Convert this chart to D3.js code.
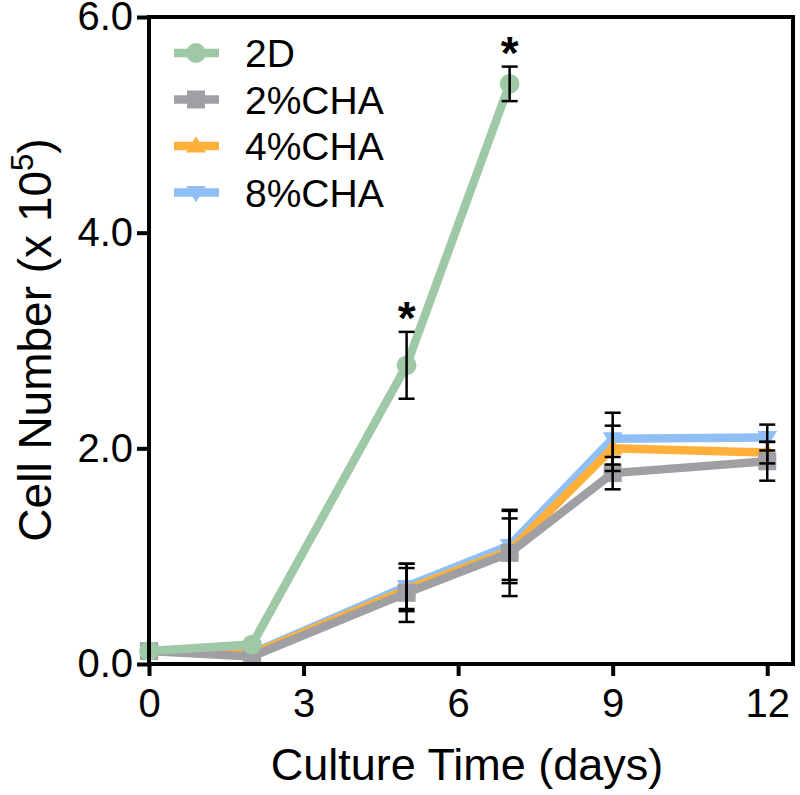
<!DOCTYPE html>
<html><head><meta charset="utf-8">
<script src="https://cdn.jsdelivr.net/npm/d3@7"></script>
<style>body{margin:0;background:#fff}</style>
</head><body>
<svg id="c" width="800" height="795"></svg>
<script>
const days = [0, 2, 5, 7, 9, 12];
const seriesNames = ["2D", "2%CHA", "4%CHA", "8%CHA"];
const colors = ["#9ec8a6", "#a0a0a4", "#ffb03b", "#8fbff5"];
const v2D = [0.12, 0.18, 2.77, 5.38];
const e2D = [0.02, 0.02, 0.31, 0.16];
const v2CHA = [0.12, 0.07, 0.66, 1.03, 1.77, 1.88];
const e2CHA = [0.02, 0.02, 0.27, 0.40, 0.15, 0.18];
const v4CHA = [0.12, 0.09, 0.69, 1.05, 2.00, 1.96];
const e4CHA = [0.02, 0.02, 0.20, 0.30, 0.21, 0.10];
const v8CHA = [0.12, 0.10, 0.72, 1.10, 2.09, 2.10];
const e8CHA = [0.02, 0.02, 0.21, 0.32, 0.24, 0.12];
const xTicks = [0, 3, 6, 9, 12];
const yTicks = [0, 2, 4, 6];
const stars = [{d: 5, v: 3.08}, {d: 7, v: 5.54}];

const svg = d3.select("#c");
const x = d3.scaleLinear().domain([0, 12.5]).range([149, 793]);
const y = d3.scaleLinear().domain([0, 6]).range([664, 17]);
const font = "Liberation Sans, Arial, sans-serif";

const series = [
  {name: "8%CHA", v: v8CHA, e: e8CHA, c: colors[3], sym: "down"},
  {name: "4%CHA", v: v4CHA, e: e4CHA, c: colors[2], sym: "up"},
  {name: "2%CHA", v: v2CHA, e: e2CHA, c: colors[1], sym: "square"},
  {name: "2D", v: v2D, e: e2D, c: colors[0], sym: "circle"}
];

function symPath(sym, s) {
  if (sym === "circle") return d3.symbol(d3.symbolCircle, s * s * 0.85)();
  if (sym === "square") return d3.symbol(d3.symbolSquare, s * s)();
  const h = s * 0.9, w = s * 0.55;
  if (sym === "up") return `M0,${-h*0.6}L${w},${h*0.4}L${-w},${h*0.4}Z`;
  return `M0,${h*0.6}L${w},${-h*0.4}L${-w},${-h*0.4}Z`;
}

const line = d3.line().x(d => x(d[0])).y(d => y(d[1]));
const g = svg.append("g");
series.forEach(s => {
  const pts = s.v.map((v, i) => [days[i], v]);
  g.append("path").attr("d", line(pts)).attr("fill", "none")
    .attr("stroke", s.c).attr("stroke-width", 8.5).attr("stroke-linejoin", "round");
  pts.forEach(p => {
    g.append("path").attr("d", symPath(s.sym, s.sym === "circle" ? 19 : 18))
      .attr("transform", `translate(${x(p[0])},${y(p[1])})`).attr("fill", s.c);
  });
});
// error bars
series.forEach(s => {
  s.v.forEach((v, i) => {
    const e = s.e[i];
    if (e < 0.05) return;
    const cx = x(days[i]);
    const eg = g.append("g").attr("stroke", "#000").attr("stroke-width", 2.5);
    eg.append("line").attr("x1", cx).attr("x2", cx).attr("y1", y(v + e)).attr("y2", y(v - e));
    [v + e, v - e].forEach(t => eg.append("line").attr("x1", cx - 8).attr("x2", cx + 8).attr("y1", y(t)).attr("y2", y(t)));
  });
});
// stars
stars.forEach(st => {
  svg.append("text").attr("x", x(st.d)).attr("y", y(st.v) + 2).attr("text-anchor", "middle")
    .attr("font-family", font).attr("font-weight", "bold").attr("font-size", 46).text("*");
});

// axes
const xAxis = svg.append("g").attr("transform", `translate(0,${y(0)})`)
  .call(d3.axisBottom(x).tickValues(xTicks).tickSize(12).tickSizeOuter(0).tickPadding(13).tickFormat(d3.format("d")));
const yAxis = svg.append("g").attr("transform", `translate(${x(0)},0)`)
  .call(d3.axisLeft(y).tickValues(yTicks).tickSize(12).tickSizeOuter(0).tickPadding(4).tickFormat(d3.format(".1f")));
[xAxis, yAxis].forEach(a => {
  a.select(".domain").attr("stroke", "#000").attr("stroke-width", 4);
  a.selectAll(".tick line").attr("stroke", "#000").attr("stroke-width", 4);
  a.selectAll(".tick text").attr("font-family", font).attr("font-size", 40).attr("fill", "#000");
});
xAxis.select(".domain").attr("d", `M${x(0)-2},0H${x(12.5)+2}`);
yAxis.select(".domain").attr("d", `M0,${y(0)+2}V${y(6)-2}`);
// frame
svg.append("line").attr("x1", x(0)).attr("x2", x(12.5)).attr("y1", y(6)).attr("y2", y(6)).attr("stroke", "#000").attr("stroke-width", 4);
svg.append("line").attr("x1", x(12.5)).attr("x2", x(12.5)).attr("y1", y(6)-2).attr("y2", y(0)+2).attr("stroke", "#000").attr("stroke-width", 4);

// titles
svg.append("text").attr("x", 467).attr("y", 780).attr("text-anchor", "middle")
  .attr("font-family", font).attr("font-size", 45).text("Culture Time (days)");
const yt = svg.append("text").attr("transform", `translate(51,340) rotate(-90)`).attr("text-anchor", "middle")
  .attr("font-family", font).attr("font-size", 46);
yt.append("tspan").text("Cell Number (x 10");
yt.append("tspan").attr("dy", -18).attr("font-size", 31).text("5");
yt.append("tspan").attr("dy", 18).text(")");

// legend
const legSym = ["circle", "square", "up", "down"];
seriesNames.forEach((n, i) => {
  const ly = 53 + i * 46.5;
  svg.append("line").attr("x1", 174).attr("x2", 219).attr("y1", ly).attr("y2", ly)
    .attr("stroke", colors[i]).attr("stroke-width", 8.5);
  svg.append("path").attr("d", symPath(legSym[i], i === 0 ? 19 : 18))
    .attr("transform", `translate(196,${ly})`).attr("fill", colors[i]);
  svg.append("text").attr("x", 245).attr("y", ly + 14).attr("font-family", font).attr("font-size", 39).text(n);
});
</script>
</body></html>
